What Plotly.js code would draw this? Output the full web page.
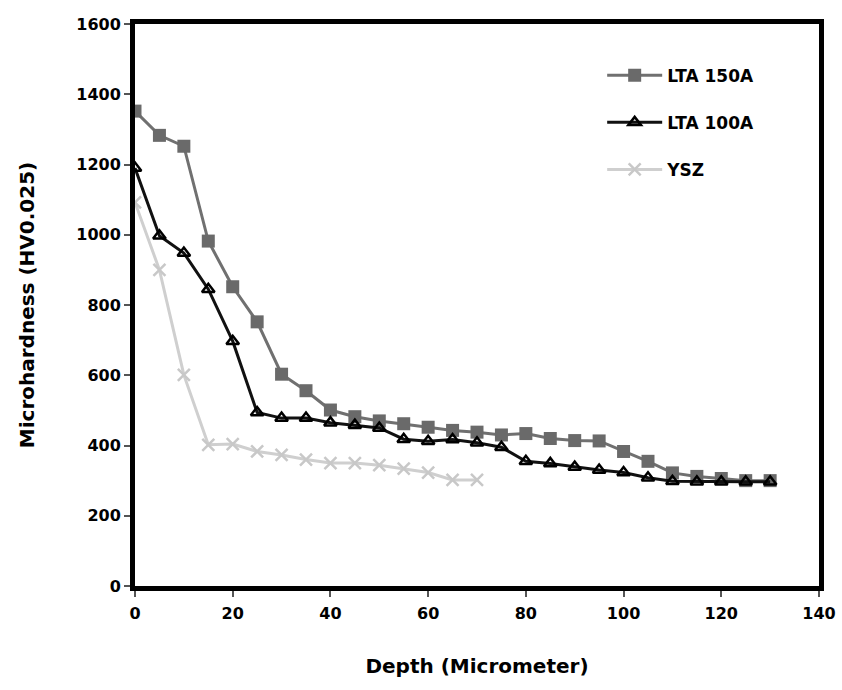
<!DOCTYPE html>
<html>
<head>
<meta charset="utf-8">
<script src="https://cdn.plot.ly/plotly-3.0.1.min.js"></script>
<style>html,body{margin:0;padding:0;background:#fff;}#chart{width:842px;height:690px;}</style>
</head>
<body>
<div id="chart"></div>
<script>
var depth150 = [0,5,10,15,20,25,30,35,40,45,50,55,60,65,70,75,80,85,90,95,100,105,110,115,120,125,130];
var lta150 = [1352,1283,1252,982,852,752,603,556,501,482,470,462,452,443,438,430,434,420,414,413,383,355,322,312,306,300,300];
var depth100 = [0,5,10,15,20,25,30,35,40,45,50,55,60,65,70,75,80,85,90,95,100,105,110,115,120,125,130];
var lta100 = [1190,997,948,845,697,494,478,478,465,458,450,418,412,417,408,395,355,349,339,330,323,308,298,297,297,297,297];
var depthYSZ = [0,5,10,15,20,25,30,35,40,45,50,55,60,65,70];
var ysz = [1092,900,601,402,404,383,373,360,350,350,344,334,323,302,302];
var seriesNames = ['LTA 150A','LTA 100A','YSZ'];

var fam = 'DejaVu Sans, Liberation Sans, sans-serif';
var tickFont = {family: fam, size: 16, color: '#000', weight: 'bold'};
var titleFont = {family: fam, size: 20, color: '#000', weight: 'bold'};

var traces = [
  {x: depth150, y: lta150, name: seriesNames[0], mode: 'lines+markers', legendgroup: 'a',
   line: {color: '#707070', width: 3}, marker: {symbol: 'square', size: 13, color: '#6a6a6a'}},
  {x: depth100, y: lta100, name: seriesNames[1], mode: 'lines+markers', legendgroup: 'b',
   line: {color: '#111', width: 3}, marker: {symbol: 'triangle-up-open', size: 11, color: '#000', line: {width: 2.5, color: '#000'}}},
  {x: depthYSZ, y: ysz, name: seriesNames[2], mode: 'lines+markers', legendgroup: 'c',
   line: {color: '#cfcfcf', width: 3}, marker: {symbol: 'x-thin-open', size: 12, color: '#c8c8c8', line: {width: 2.5, color: '#c8c8c8'}}}
];

var layout = {
  width: 842, height: 690,
  margin: {l: 135, r: 23, t: 24, b: 104},
  paper_bgcolor: '#fff', plot_bgcolor: '#fff',
  font: tickFont,
  showlegend: true,
  legend: {x: 0.683, y: 0.94, xanchor: 'left', yanchor: 'top', bgcolor: 'rgba(0,0,0,0)',
           font: {family: fam, size: 17, color: '#000', weight: 'bold'},
           traceorder: 'grouped', tracegroupgap: 22, itemwidth: 55},
  xaxis: {
    range: [0, 140], dtick: 20, tick0: 0, showgrid: false, zeroline: false,
    showline: true, linecolor: '#000', linewidth: 5, mirror: true,
    ticks: 'outside', ticklen: 6, tickwidth: 2, tickcolor: '#555',
    ticklabelstandoff: 3,
    tickfont: tickFont,
    title: {text: 'Depth (Micrometer)', font: titleFont, standoff: 38}
  },
  yaxis: {
    range: [0, 1600], dtick: 200, tick0: 0, showgrid: false, zeroline: false,
    showline: true, linecolor: '#000', linewidth: 5, mirror: true,
    ticks: 'outside', ticklen: 6, tickwidth: 2, tickcolor: '#555',
    tickfont: tickFont,
    title: {text: 'Microhardness (HV0.025)', font: titleFont, standoff: 38}
  }
};

Plotly.newPlot('chart', traces, layout, {displayModeBar: false, staticPlot: true});
</script>
</body>
</html>
